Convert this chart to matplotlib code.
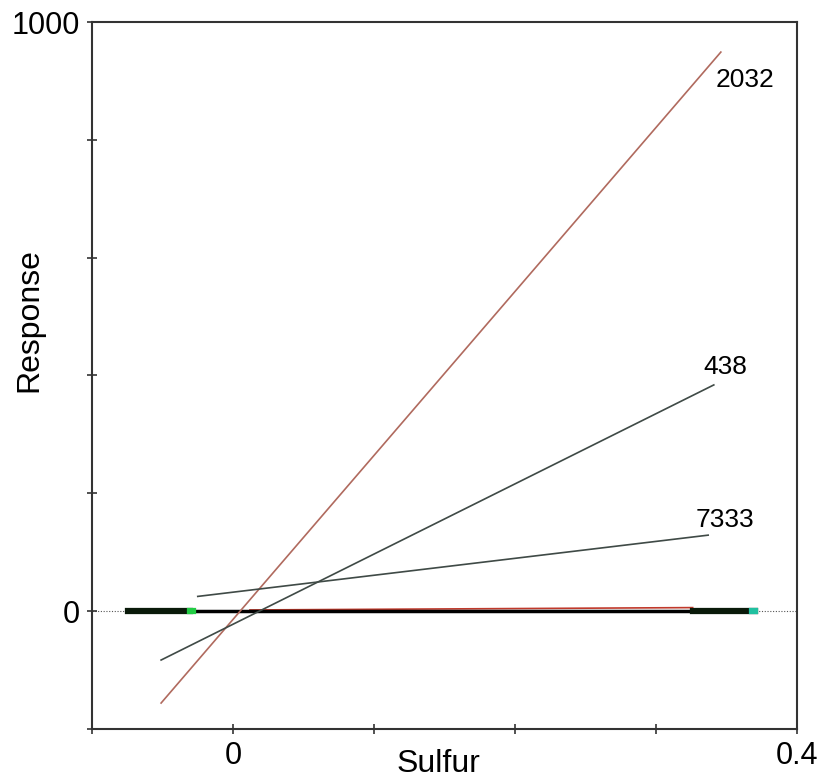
import matplotlib.pyplot as plt

plt.rcParams['font.family'] = ['Liberation Sans', 'DejaVu Sans']

# fitted response lines (start / end points)
line_names = ['2032', '438', '7333']
line_x0 = [-0.051, -0.051, -0.025]
line_y0 = [-156, -83, 25]
line_x1 = [0.346, 0.341, 0.337]
line_y1 = [949, 384, 129]
line_colors = ['#b06a5e', '#3f4a46', '#3f4a46']
label_x = [0.363, 0.349, 0.349]
label_y = [901, 414, 155]

# observed points piled up along zero
obs_left = [-0.0745, -0.0305]
obs_right = [0.326, 0.370]
flat_x = [-0.0745, 0.370]
flat_y = [0, 0]
red_x = [0.012, 0.326]
red_y = [2, 6]

xticks = [-0.1, 0, 0.1, 0.2, 0.3, 0.4]
xticklabels = ['', '0', '', '', '', '0.4']
yticks = [-200, 0, 200, 400, 600, 800, 1000]
yticklabels = ['', '0', '', '', '', '', '1000']

fig = plt.figure(figsize=(8.23, 7.84), dpi=100)
ax = fig.add_axes([0.1118, 0.0702, 0.8566, 0.9017])

ax.axhline(0, color='#555555', linewidth=0.8, linestyle=(0, (1, 1.5)), zorder=1)
ax.plot(red_x, red_y, color='#c0392b', linewidth=1.2, zorder=2)
ax.plot(flat_x, flat_y, color='black', linewidth=2.5, zorder=3)
ax.plot(obs_left, [0, 0], color='#0a1a0a', linewidth=4.5, zorder=4)
ax.plot(obs_right, [0, 0], color='#0a1a0a', linewidth=4.5, zorder=4)
ax.plot([obs_left[1], obs_left[1] + 0.002], [0, 0], color='#22cc44', linewidth=4.5, zorder=5)
ax.plot([obs_right[1] - 0.002, obs_right[1]], [0, 0], color='#20c0a0', linewidth=4.5, zorder=5)

for name, x0, y0, x1, y1, c, lx, ly in zip(line_names, line_x0, line_y0, line_x1,
                                           line_y1, line_colors, label_x, label_y):
    ax.plot([x0, x1], [y0, y1], color=c, linewidth=1.2, zorder=6)
    ax.text(lx, ly, name, fontsize=19, ha='center', va='center')

ax.set_xlim(-0.1, 0.4)
ax.set_ylim(-200, 1000)
ax.set_xticks(xticks)
ax.set_xticklabels(xticklabels)
ax.set_yticks(yticks)
ax.set_yticklabels(yticklabels)
ax.tick_params(direction='inout', length=7, width=1.2, colors='#333333',
               labelcolor='black', labelsize=22, pad=5)

for s in ax.spines.values():
    s.set_color('#333333')
    s.set_linewidth(1.5)

ax.set_xlabel('Sulfur', fontsize=23)
ax.xaxis.set_label_coords(0.492, -0.029)
ax.set_ylabel('Response', fontsize=23)
ax.yaxis.set_label_coords(-0.067, 0.578)

fig.savefig('out.png', dpi=100)
